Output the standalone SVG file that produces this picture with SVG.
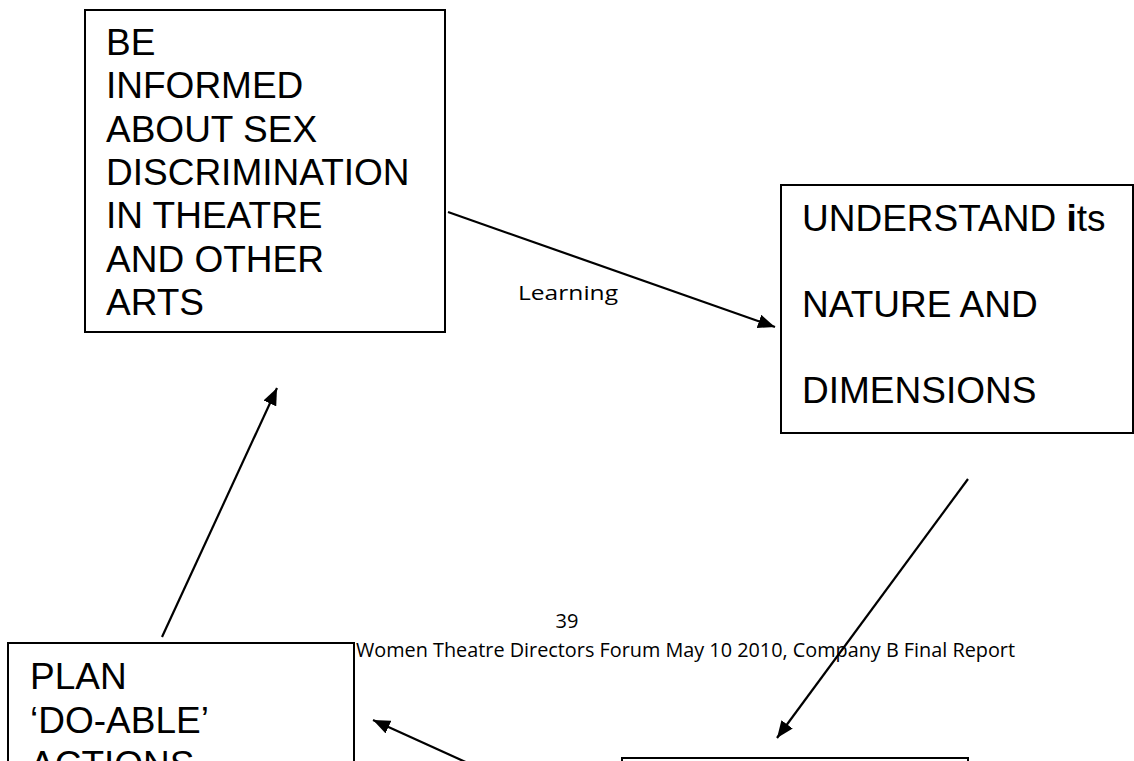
<svg xmlns="http://www.w3.org/2000/svg" width="1134" height="761" viewBox="0 0 1134 761">
<style>
.box{fill:#fff;stroke:#000;stroke-width:2}
.big{font-family:"Liberation Sans",Arial,sans-serif;font-size:37px;fill:#000}
.small{font-family:"Open Sans","Noto Sans",sans-serif;font-size:20px;fill:#000}
.conn line{stroke:#000;stroke-width:2.2;marker-end:url(#ah)}
</style>
<defs>
<marker id="ah" markerUnits="userSpaceOnUse" markerWidth="18" markerHeight="14" refX="17" refY="7" orient="auto">
<path d="M0,0 L17,7 L0,14 z" fill="#000"/>
</marker>
</defs>
<rect width="1134" height="761" fill="#fff"/>
<g id="node-informed">
<rect class="box" x="85" y="10" width="360" height="322"/>
<text class="big" x="106"><tspan x="106" y="55">BE</tspan><tspan x="106" y="98">INFORMED</tspan><tspan x="106" y="142">ABOUT SEX</tspan><tspan x="106" y="185">DISCRIMINATION</tspan><tspan x="106" y="228">IN THEATRE</tspan><tspan x="106" y="272">AND OTHER</tspan><tspan x="106" y="315">ARTS</tspan></text>
</g>
<g id="node-understand">
<rect class="box" x="781" y="185" width="352" height="248"/>
<text class="big"><tspan x="802" y="231">UNDERSTAND <tspan font-weight="bold">i</tspan>ts</tspan><tspan x="802" y="317">NATURE AND</tspan><tspan x="802" y="403">DIMENSIONS</tspan></text>
</g>
<g id="node-plan">
<rect class="box" x="8" y="643" width="346" height="140"/>
<text class="big"><tspan x="30" y="689">PLAN</tspan><tspan x="30" y="733">‘DO-ABLE’</tspan><tspan x="30" y="777">ACTIONS</tspan></text>
</g>
<g id="node-bottom">
<rect class="box" x="622" y="758" width="346" height="60"/>
</g>
<g id="connectors" class="conn">
<line x1="448" y1="212" x2="775" y2="327"/>
<line x1="968" y1="479" x2="777" y2="738"/>
<line x1="470" y1="764" x2="373" y2="720"/>
<line x1="162" y1="637" x2="277" y2="388"/>
</g>
<text class="small" x="518" y="300" textLength="100" lengthAdjust="spacingAndGlyphs">Learning</text>
<g id="footer">
<text class="small" x="567" y="628" text-anchor="middle">39</text>
<text class="small" x="356" y="657" textLength="659" lengthAdjust="spacingAndGlyphs">Women Theatre Directors Forum May 10 2010, Company B Final Report</text>
</g>
</svg>
